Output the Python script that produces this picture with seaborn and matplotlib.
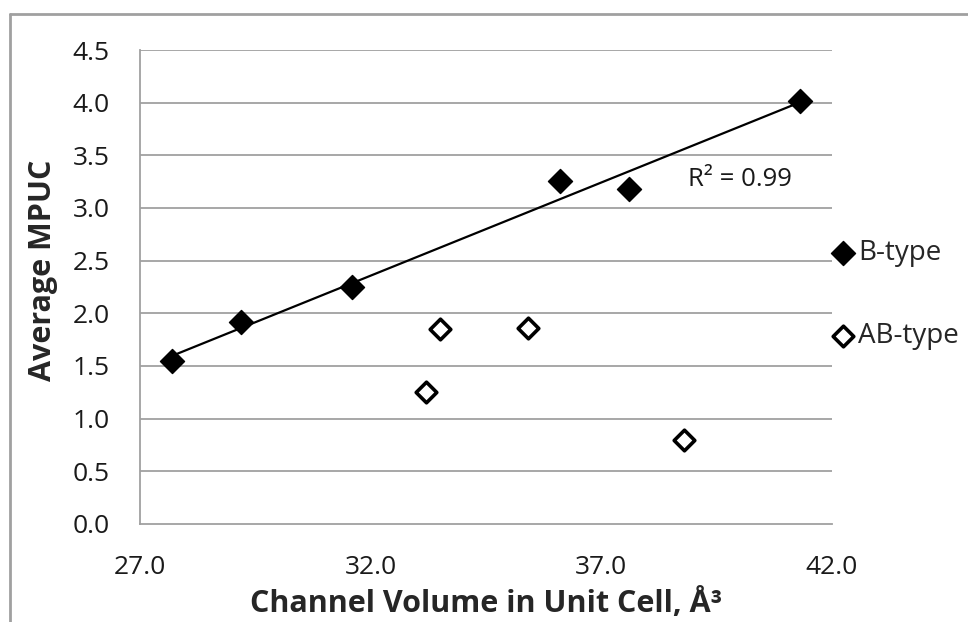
import numpy as np
import pandas as pd
import matplotlib
matplotlib.use("Agg")
import matplotlib.pyplot as plt
import seaborn as sns
from matplotlib.lines import Line2D

# B-type (filled) and AB-type (open) points
b_volume = [27.7, 29.2, 31.6, 36.1, 37.6, 41.3]
b_mpuc = [1.55, 1.92, 2.25, 3.26, 3.18, 4.02]
ab_volume = [33.2, 33.5, 35.4, 38.8]
ab_mpuc = [1.25, 1.85, 1.86, 0.80]

x_ticks = [27.0, 32.0, 37.0, 42.0]
y_ticks = [0.0, 0.5, 1.0, 1.5, 2.0, 2.5, 3.0, 3.5, 4.0, 4.5]
r2_label = "R² = 0.99"

df_b = pd.DataFrame({"volume": b_volume, "mpuc": b_mpuc})
df_ab = pd.DataFrame({"volume": ab_volume, "mpuc": ab_mpuc})

sns.set_style("white")
plt.rcParams["font.family"] = ["Open Sans", "DejaVu Sans"]
grey = "#a0a0a0"
ink = "#1a1a1a"

fig = plt.figure(figsize=(9.68, 6.22), dpi=100)
ax = fig.add_axes([0.1446, 0.1576, 0.7149, 0.762])

# ======================
# gridlines behind everything
for y in y_ticks[1:]:
    ax.axhline(y, color=grey, lw=1.3, zorder=0)

# trendline over B-type only
sns.regplot(data=df_b, x="volume", y="mpuc", ax=ax, scatter=False, ci=None,
            truncate=True, line_kws={"color": "black", "lw": 1.6, "zorder": 2})

sns.scatterplot(data=df_b, x="volume", y="mpuc", ax=ax, marker="D", s=150,
                color="black", edgecolor="black", linewidth=1, label="B-type", zorder=3)
sns.scatterplot(data=df_ab, x="volume", y="mpuc", ax=ax, marker="D", s=110,
                facecolor="white", edgecolor="black", linewidth=2.6, label="AB-type", zorder=3)

ax.text(40.0, 3.27, r2_label, ha="center", va="center", fontsize=18.5, color=ink)

ax.set_xlim(27, 42)
ax.set_ylim(0, 4.5)
ax.set_xticks(x_ticks)
ax.set_yticks(y_ticks)
ax.set_xticklabels([f"{v:.1f}" for v in x_ticks])
ax.set_yticklabels([f"{v:.1f}" for v in y_ticks])
ax.tick_params(axis="both", which="both", direction="out", length=7, width=1.3,
               color=grey, labelsize=19, labelcolor=ink)
ax.tick_params(axis="y", pad=15)
ax.tick_params(axis="x", pad=15)

for side in ["top", "right"]:
    ax.spines[side].set_visible(False)
for side in ["left", "bottom"]:
    ax.spines[side].set_color(grey)
    ax.spines[side].set_linewidth(1.3)

ax.set_xlabel("Channel Volume in Unit Cell, Å³", fontsize=22, fontweight="bold", labelpad=6)
ax.set_ylabel("Average MPUC", fontsize=22, fontweight="bold")
ax.yaxis.set_label_coords(-0.118, 0.536)

leg = ax.legend(loc="center left", bbox_to_anchor=(0.962, 0.484), frameon=False,
                fontsize=20, handletextpad=0.1, labelspacing=2.0, handlelength=0.9)

# outer chart frame (left and top edges only)
fig.add_artist(Line2D([0.0103, 0.0103], [0.0, 0.9775], color=grey, lw=2, transform=fig.transFigure))
fig.add_artist(Line2D([0.0103, 1.0], [0.9775, 0.9775], color=grey, lw=2, transform=fig.transFigure))

fig.savefig("out.png", dpi=100)
